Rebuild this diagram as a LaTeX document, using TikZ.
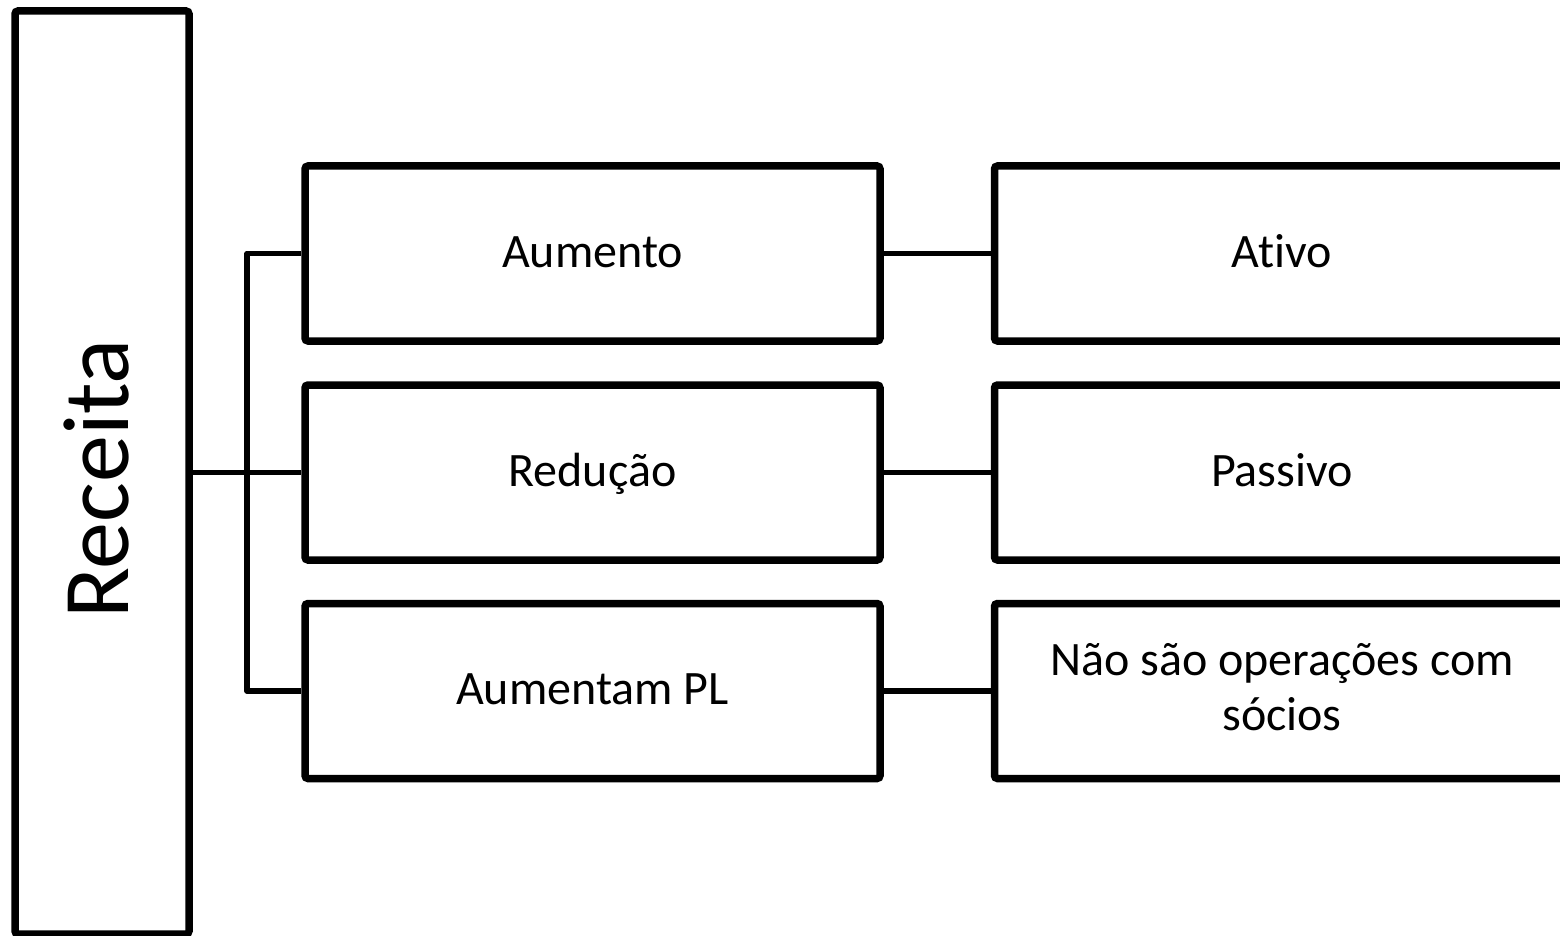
\documentclass[tikz,border=0pt]{standalone}
\usepackage{fontspec}
\setmainfont{Carlito}[Ligatures=NoCommon]
\usetikzlibrary{shadows}
\begin{document}
\begin{tikzpicture}[x=1pt,y=-1pt,
  box/.style={draw=black, line width=7.5pt, fill=white, rounded corners=3pt,
    rectangle, inner sep=0pt, align=center,
    drop shadow={shadow xshift=1.5pt, shadow yshift=-3pt, opacity=0.15, fill=black}},
  midbox/.style={box, minimum width=575pt, minimum height=175pt,
    font=\fontsize{48}{55}\selectfont, text height=36pt, text depth=9pt},
  conn/.style={draw=black, line width=5.5pt, line join=round}]
\useasboundingbox (0,0) rectangle (1560,936);
\node[box, minimum width=174pt, minimum height=923pt] (rec) at (102,472.5) {};
\node[rotate=90, font=\fontsize{94}{100}\selectfont, inner sep=0pt] (rect) at (97,479) {Receita};
\node[midbox] (aum) at (592.5,253.5) {Aumento};
\node[midbox] (red) at (592.5,472.5) {Redução};
\node[midbox] (apl) at (592.5,691) {Aumentam PL};
\node[midbox] (ati) at (1282,253.5) {Ativo};
\node[midbox] (pas) at (1282,472.5) {Passivo};
\node[midbox, text height=88pt] (nao) at (1282,691) {Não são operações com\\sócios};
\coordinate (j) at (247,472.5);
\draw[conn] (aum.west) -| (j) |- (apl.west);
\draw[conn] (rec.east) -- (red.west);
\draw[conn] (aum.east) -- (ati.west);
\draw[conn] (red.east) -- (pas.west);
\draw[conn] (apl.east) -- (nao.west);
\end{tikzpicture}
\end{document}
